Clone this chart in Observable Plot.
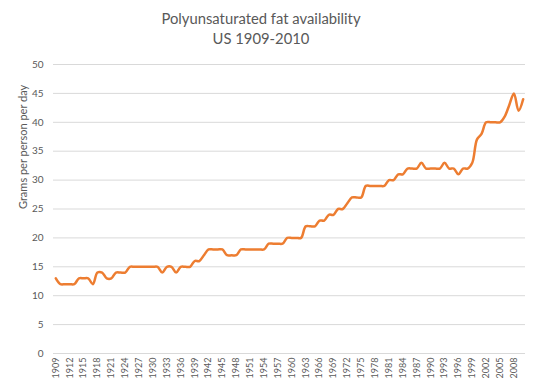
<!DOCTYPE html>
<html>
<head>
<meta charset="utf-8">
<script src="https://cdn.jsdelivr.net/npm/d3@7"></script>
<script src="https://cdn.jsdelivr.net/npm/@observablehq/plot@0.6"></script>
<style>
  body { margin: 0; background: #fff; font-family: Lato, "Open Sans", sans-serif; }
  #title { width: 522px; height: 50px; text-align: center; color: #595959; font-size: 14.8px; line-height: 20px; padding-top: 8px; box-sizing: border-box; }
</style>
</head>
<body>
<div id="title"><div>Polyunsaturated fat availability</div><div>US 1909-2010</div></div>
<div id="chart"></div>
<script>
const years = d3.range(1909, 2011);
const grams = [
  13, 12, 12, 12, 12, 13, 13, 13, 12, 14,   // 1909-1918
  14, 13, 13, 14, 14, 14, 15, 15, 15, 15,   // 1919-1928
  15, 15, 15, 14, 15, 15, 14, 15, 15, 15,   // 1929-1938
  16, 16, 17, 18, 18, 18, 18, 17, 17, 17,   // 1939-1948
  18, 18, 18, 18, 18, 18, 19, 19, 19, 19,   // 1949-1958
  20, 20, 20, 20, 22, 22, 22, 23, 23, 24,   // 1959-1968
  24, 25, 25, 26, 27, 27, 27, 29, 29, 29,   // 1969-1978
  29, 29, 30, 30, 31, 31, 32, 32, 32, 33,   // 1979-1988
  32, 32, 32, 32, 33, 32, 32, 31, 32, 32,   // 1989-1998
  33, 37, 38, 40, 40, 40, 40, 41, 43, 45,   // 1999-2008
  42, 44                                    // 2009-2010
];
const xTicks = d3.range(1909, 2011, 3);
const yTicks = d3.range(0, 51, 5);
const yLabel = "Grams per person per day";

const data = years.map((year, i) => ({year, value: grams[i]}));

const chart = Plot.plot({
  width: 540,
  height: 341,
  marginTop: 14,
  marginBottom: 38,
  marginLeft: 53,
  marginRight: 15,
  style: {fontFamily: "Lato, 'Open Sans', sans-serif", color: "#595959", background: "#fff"},
  x: {domain: [1908.5, 2010.5]},
  y: {domain: [0, 50]},
  marks: [
    Plot.ruleY(yTicks, {x1: 1908.5, x2: 2010.5, stroke: "#d9d9d9", strokeWidth: 1}),
    Plot.axisY({ticks: yTicks, tickSize: 0, tickPadding: 10, fontSize: 10, label: null, fill: "#595959"}),
    Plot.axisX({ticks: xTicks, tickSize: 0, tickPadding: 4, tickRotate: -90, fontSize: 9, label: null, tickFormat: d => String(d), fill: "#595959"}),
    Plot.text([yLabel], {frameAnchor: "left", dx: -30, rotate: -90, fontSize: 11, fill: "#595959"}),
    Plot.line(data, {x: "year", y: "value", stroke: "#ED7D31", strokeWidth: 2.5, curve: "catmull-rom"})
  ]
});
document.getElementById("chart").appendChild(chart);
</script>
</body>
</html>
